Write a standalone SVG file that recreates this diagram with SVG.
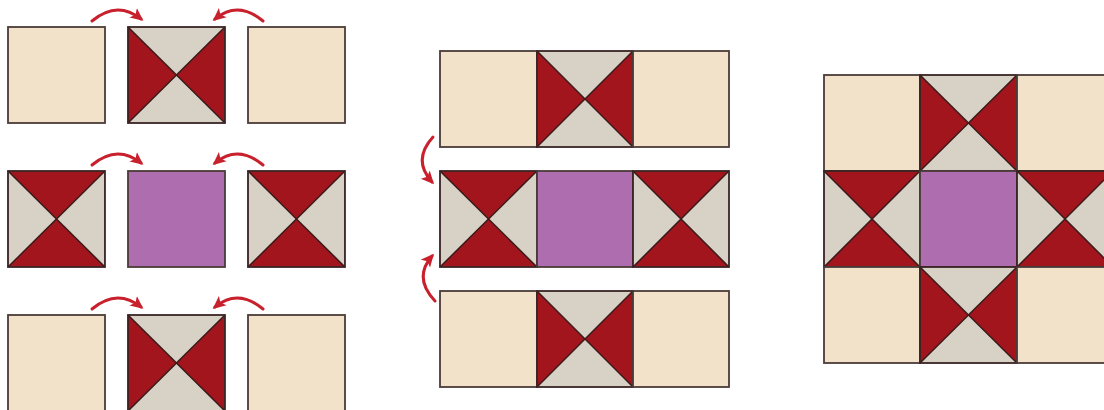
<svg xmlns="http://www.w3.org/2000/svg" xmlns:xlink="http://www.w3.org/1999/xlink" width="1104" height="410" viewBox="0 0 1104 410">
<style>
.cream{fill:#F3E2CA;stroke:#4a3b38;stroke-width:1.8}
.purple{fill:#AE6DAE;stroke:#4a3b38;stroke-width:1.8}
.grey{fill:#D8D1C6}
.red{fill:#A3151D}
.edge{fill:none;stroke:#3a2424;stroke-width:1.8}
.diag{stroke:#3a1a1a;stroke-width:1.5}
.arrow{fill:none;stroke:#C8202C;stroke-width:3;stroke-linecap:round}
</style>
<defs>
<marker id="ah" markerWidth="14" markerHeight="14" refX="10" refY="7" orient="auto" markerUnits="userSpaceOnUse">
<path d="M0,1 L13,7 L0,13 L3,7 Z" fill="#C8202C"/>
</marker>
<g id="hgA">
<rect x="0" y="0" width="96" height="96" class="grey"/>
<polygon points="0,0 48,48 0,96" class="red"/>
<polygon points="96,0 48,48 96,96" class="red"/>
<line x1="0" y1="0" x2="96" y2="96" class="diag"/>
<line x1="96" y1="0" x2="0" y2="96" class="diag"/>
<rect x="0" y="0" width="96" height="96" class="edge"/>
</g>
<g id="hgB">
<rect x="0" y="0" width="96" height="96" class="grey"/>
<polygon points="0,0 96,0 48,48" class="red"/>
<polygon points="0,96 96,96 48,48" class="red"/>
<line x1="0" y1="0" x2="96" y2="96" class="diag"/>
<line x1="96" y1="0" x2="0" y2="96" class="diag"/>
<rect x="0" y="0" width="96" height="96" class="edge"/>
</g>
</defs>
<rect width="1104" height="410" fill="#ffffff"/>

<!-- Left column: separate blocks -->
<g id="L1a"><rect x="8" y="27" width="97" height="96" class="cream"/></g>
<g id="L1b"><use xlink:href="#hgA" transform="translate(128,27) scale(1.01,1)"/></g>
<g id="L1c"><rect x="248" y="27" width="97" height="96" class="cream"/></g>

<g id="L2a"><use xlink:href="#hgB" transform="translate(8,171) scale(1.01,1)"/></g>
<g id="L2b"><rect x="128" y="171" width="97" height="96" class="purple"/></g>
<g id="L2c"><use xlink:href="#hgB" transform="translate(248,171) scale(1.01,1)"/></g>

<g id="L3a"><rect x="8" y="315" width="97" height="96" class="cream"/></g>
<g id="L3b"><use xlink:href="#hgA" transform="translate(128,315) scale(1.01,1)"/></g>
<g id="L3c"><rect x="248" y="315" width="97" height="96" class="cream"/></g>

<!-- Middle column: sewn rows -->
<g id="M1">
<rect x="440" y="51" width="97" height="96" class="cream"/>
<use xlink:href="#hgA" transform="translate(537,51)"/>
<rect x="633" y="51" width="96" height="96" class="cream"/>
</g>
<g id="M2">
<use xlink:href="#hgB" transform="translate(440,171) scale(1.01,1)"/>
<rect x="537" y="171" width="96" height="96" class="purple"/>
<use xlink:href="#hgB" transform="translate(633,171)"/>
</g>
<g id="M3">
<rect x="440" y="291" width="97" height="96" class="cream"/>
<use xlink:href="#hgA" transform="translate(537,291)"/>
<rect x="633" y="291" width="96" height="96" class="cream"/>
</g>

<!-- Right: finished block -->
<g id="R">
<rect x="824" y="75" width="96" height="96" class="cream"/>
<use xlink:href="#hgA" transform="translate(920,75) scale(1.01,1)"/>
<rect x="1017" y="75" width="96" height="96" class="cream"/>
<use xlink:href="#hgB" transform="translate(824,171)"/>
<rect x="920" y="171" width="97" height="96" class="purple"/>
<use xlink:href="#hgB" transform="translate(1017,171)"/>
<rect x="824" y="267" width="96" height="96" class="cream"/>
<use xlink:href="#hgA" transform="translate(920,267) scale(1.01,1)"/>
<rect x="1017" y="267" width="96" height="96" class="cream"/>
</g>

<!-- Connectors -->
<g id="connectors">
<path class="arrow" marker-end="url(#ah)" d="M92,21 Q117,0 141,19"/>
<path class="arrow" marker-end="url(#ah)" d="M263,21 Q238,0 215,19"/>
<path class="arrow" marker-end="url(#ah)" d="M92,165 Q117,144 141,163"/>
<path class="arrow" marker-end="url(#ah)" d="M263,165 Q238,144 215,163"/>
<path class="arrow" marker-end="url(#ah)" d="M92,309 Q117,288 141,307"/>
<path class="arrow" marker-end="url(#ah)" d="M263,309 Q238,288 215,307"/>
<path class="arrow" marker-end="url(#ah)" d="M433,137 Q412,160 432,182"/>
<path class="arrow" marker-end="url(#ah)" d="M435,301 Q413,278 432,256"/>
</g>
</svg>
